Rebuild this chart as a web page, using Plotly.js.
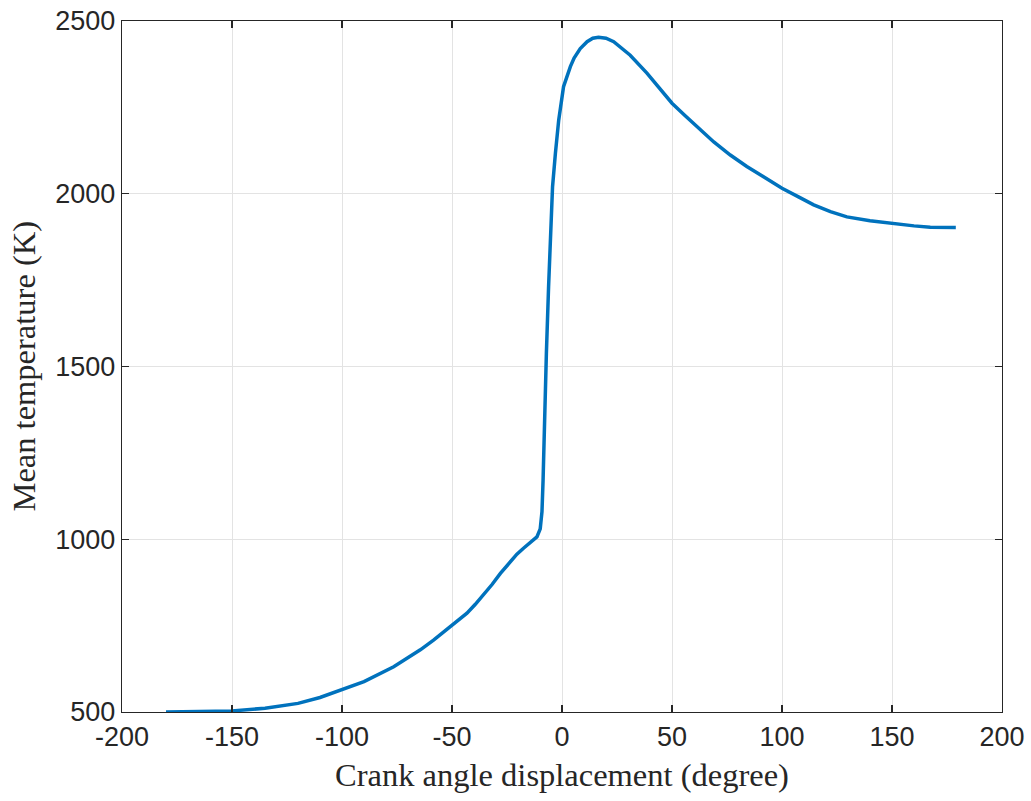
<!DOCTYPE html>
<html>
<head>
<meta charset="utf-8">
<script src="https://cdn.plot.ly/plotly-3.0.1.min.js"></script>
<style>html,body{margin:0;padding:0;background:#fff;}#chart{width:1031px;height:801px;}</style>
</head>
<body>
<div id="chart"></div>
<script>
var crankAngle = [-180, -165, -150, -135, -120, -110, -100, -90, -76.5, -64.4, -58.4, -50, -46.5, -43.2, -39.5, -35.6, -31.8, -28, -24, -20.5, -17.5, -15, -11.4, -9.9, -9.1, -8.6, -8.05, -7.1, -6.1, -5, -4.3, -3, -1.5, 0.7, 2, 3.8, 5.5, 8.3, 11.4, 14, 16.6, 20, 23.5, 27, 31, 38.6, 44, 50, 56, 61.4, 69, 76.5, 84, 91.6, 100, 107.5, 114.4, 122, 129.5, 140, 150, 160, 167.4, 174, 179];
var meanTemp = [500, 501, 503, 511, 525, 542, 564, 588, 631, 680, 708, 752, 768, 786, 811, 839, 869, 901, 932, 957, 974, 987, 1007, 1030, 1080, 1171, 1345, 1538, 1731, 1924, 2020, 2117, 2213, 2310, 2338, 2368, 2393, 2420, 2440, 2450, 2453, 2450, 2440, 2423, 2401, 2349, 2308, 2262, 2226, 2194, 2150, 2112, 2079, 2049, 2016, 1991, 1968, 1948, 1933, 1922, 1914, 1907, 1903, 1902, 1902];
var xTicks = [-200, -150, -100, -50, 0, 50, 100, 150, 200];
var yTicks = [500, 1000, 1500, 2000, 2500];
var xTitle = 'Crank angle displacement (degree)';
var yTitle = 'Mean temperature (K)';

var axisCommon = {
  showline: true, linecolor: '#262626', linewidth: 1.2, mirror: 'ticks',
  ticks: 'inside', ticklen: 7, tickcolor: '#262626', tickwidth: 1.2,
  showgrid: true, gridcolor: '#e3e3e3', gridwidth: 1, zeroline: false,
  tickfont: {family: 'Liberation Sans, Arial, sans-serif', size: 27, color: '#262626'}
};

var titleFont = {family: 'Liberation Serif, Times New Roman, serif', size: 32.5, color: '#262626'};

var trace = {
  x: crankAngle, y: meanTemp, type: 'scatter', mode: 'lines',
  line: {color: '#0072BD', width: 3.5, shape: 'linear'}
};

var layout = {
  width: 1031, height: 801,
  margin: {l: 122, r: 29, t: 21, b: 89},
  paper_bgcolor: '#fff', plot_bgcolor: '#fff',
  showlegend: false,
  xaxis: Object.assign({}, axisCommon, {
    range: [-200, 200], tickvals: xTicks, ticktext: xTicks.map(String),
    automargin: false,
    title: {text: xTitle, standoff: 12, font: titleFont}
  }),
  yaxis: Object.assign({}, axisCommon, {
    range: [500, 2500], tickvals: yTicks, ticktext: yTicks.map(String),
    automargin: false
  }),
  annotations: [{
    text: yTitle, textangle: -90, showarrow: false,
    xref: 'paper', yref: 'paper', x: -0.1125, y: 0.5,
    xanchor: 'center', yanchor: 'middle', font: titleFont
  }]
};

Plotly.newPlot('chart', [trace], layout, {displayModeBar: false, staticPlot: true});
</script>
</body>
</html>
